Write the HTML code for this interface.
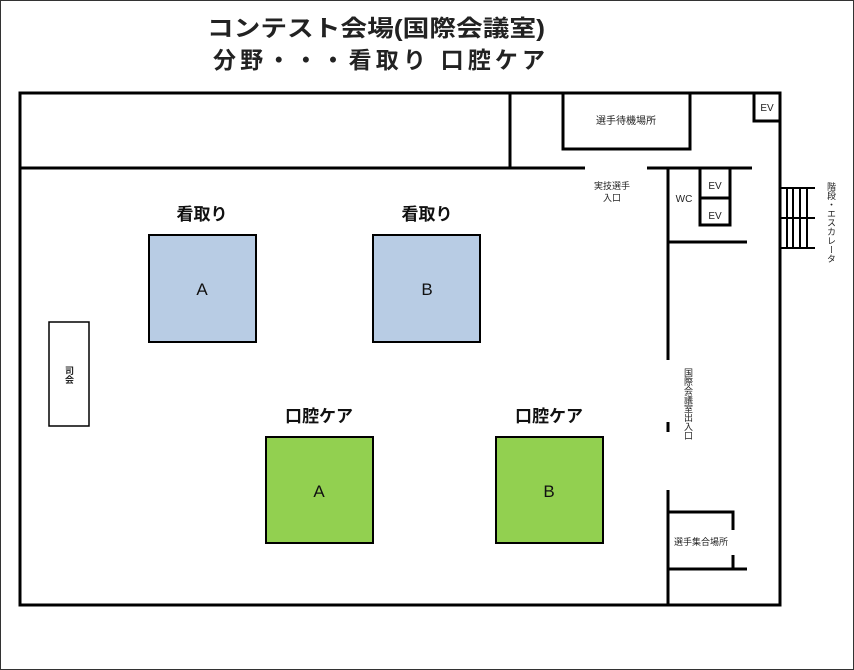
<!DOCTYPE html>
<html><head><meta charset="utf-8"><style>
body{margin:0;background:#fff}
svg{display:block}
text{font-family:"Liberation Sans","Noto Sans CJK JP",sans-serif}
</style></head><body>
<svg width="854" height="670" viewBox="0 0 854 670" xmlns="http://www.w3.org/2000/svg">
<rect x="0.5" y="0.5" width="853" height="669" fill="#fff" stroke="#333" stroke-width="1"/>
<text x="207" y="36" font-size="23" font-weight="bold" fill="#222" textLength="338" lengthAdjust="spacingAndGlyphs">コンテスト会場(国際会議室)</text>
<text x="213" y="68" font-size="23" font-weight="bold" fill="#222" textLength="332" lengthAdjust="spacing">分野・・・看取り 口腔ケア</text>
<g stroke="#000" stroke-width="3" fill="none">
<rect x="20" y="93" width="760" height="512"/>
<line x1="510" y1="93" x2="510" y2="168"/>
<line x1="20" y1="168" x2="585" y2="168"/>
<line x1="647" y1="168" x2="752" y2="168"/>
<polyline points="563,93 563,149 690,149 690,93"/>
<polyline points="754,93 754,121 780,121"/>
<line x1="668" y1="168" x2="668" y2="360"/>
<line x1="668" y1="422" x2="668" y2="432"/>
<line x1="668" y1="490" x2="668" y2="605"/>
<rect x="700" y="168" width="30" height="57"/>
<line x1="700" y1="198" x2="730" y2="198"/>
<line x1="668" y1="242" x2="747" y2="242"/>
<polyline points="668,512 733,512 733,530"/>
<line x1="733" y1="555" x2="733" y2="569"/>
<line x1="668" y1="569" x2="747" y2="569"/>
</g>
<g stroke="#000" stroke-width="2">
<line x1="780" y1="188" x2="815" y2="188"/>
<line x1="780" y1="218" x2="815" y2="218"/>
<line x1="780" y1="248" x2="815" y2="248"/>
<line x1="787" y1="188" x2="787" y2="248"/>
<line x1="793" y1="188" x2="793" y2="248"/>
<line x1="800" y1="188" x2="800" y2="248"/>
<line x1="807" y1="188" x2="807" y2="248"/>
</g>
<rect x="149" y="235" width="107" height="107" fill="#b8cce4" stroke="#000" stroke-width="2"/>
<rect x="373" y="235" width="107" height="107" fill="#b8cce4" stroke="#000" stroke-width="2"/>
<rect x="266" y="437" width="107" height="106" fill="#92d050" stroke="#000" stroke-width="2"/>
<rect x="496" y="437" width="107" height="106" fill="#92d050" stroke="#000" stroke-width="2"/>
<rect x="49" y="322" width="40" height="104" fill="#fff" stroke="#000" stroke-width="1.5"/>
<g font-size="17" font-weight="bold" text-anchor="middle" fill="#111">
<text x="202" y="220">看取り</text>
<text x="427" y="220">看取り</text>
<text x="319" y="422">口腔ケア</text>
<text x="549" y="422">口腔ケア</text>
</g>
<g font-size="17" text-anchor="middle" fill="#111">
<text x="202" y="295">A</text>
<text x="427" y="295">B</text>
<text x="319" y="497">A</text>
<text x="549" y="497">B</text>
</g>
<g font-size="10" fill="#222" text-anchor="middle">
<text x="626" y="124">選手待機場所</text>
<text x="767" y="111">EV</text>
<text x="715" y="189">EV</text>
<text x="715" y="219">EV</text>
<text x="684" y="202">WC</text>
<text x="612" y="189" font-size="9">実技選手</text>
<text x="612" y="201" font-size="9">入口</text>
<text x="701" y="545" font-size="9">選手集合場所</text>
</g>
<text x="69" y="366" font-size="9" font-weight="bold" fill="#222" writing-mode="tb" text-anchor="start">司会</text>
<text x="688" y="368" font-size="9" fill="#222" writing-mode="tb">国際会議室出入口</text>
<text x="831" y="182" font-size="9" fill="#222" writing-mode="tb">階段・エスカレータ</text>
</svg>
</body></html>
